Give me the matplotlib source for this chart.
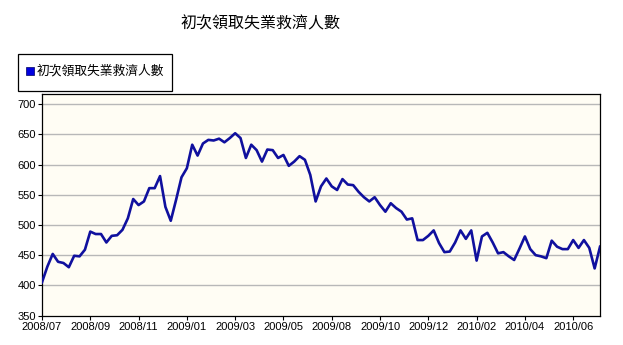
import matplotlib.pyplot as plt
from matplotlib.patches import Rectangle

plt.rcParams['font.family'] = ['Liberation Sans', 'Noto Sans CJK TC', 'DejaVu Sans']

TITLE = "初次領取失業救濟人數"

# weekly initial jobless claims (thousands)
claims = [
    405, 431, 452, 439, 437, 430, 449, 448, 459, 489,
    485, 485, 471, 482, 483, 492, 511, 543, 533, 539,
    561, 561, 581, 530, 507, 542, 579, 594, 633, 615,
    635, 641, 640, 643, 637, 644, 652, 644, 611, 633,
    624, 605, 625, 624, 611, 616, 598, 605, 614, 608,
    583, 539, 564, 577, 564, 558, 576, 567, 566, 555,
    546, 539, 546, 533, 522, 536, 528, 522, 509, 511,
    475, 475, 482, 491, 470, 455, 456, 471, 491, 477,
    491, 441, 481, 487, 471, 453, 455, 448, 442, 461,
    481, 460, 450, 448, 445, 474, 464, 460, 460, 475,
    462, 475, 462, 428, 464,
]
tick_labels = ["2008/07", "2008/09", "2008/11", "2009/01", "2009/03", "2009/05",
               "2009/08", "2009/10", "2009/12", "2010/02", "2010/04", "2010/06"]
tick_step = 9
y_ticks = [350, 400, 450, 500, 550, 600, 650, 700]

fig = plt.figure(figsize=(6.23, 3.45), dpi=100)
ax = fig.add_axes([0.0674, 0.0855, 0.8957, 0.642])
ax.set_facecolor('#FFFDF4')

x = list(range(len(claims)))
ax.plot(x, claims, color='#10109E', linewidth=1.9, solid_joinstyle='round', zorder=3)

ax.set_xlim(0, len(claims) - 1)
ax.set_ylim(350, 717)
ax.set_xticks(x[::tick_step][:len(tick_labels)])
ax.set_xticklabels(tick_labels)
ax.set_yticks(y_ticks)
ax.tick_params(axis='both', labelsize=8, length=3, width=0.8, color='black', pad=1.5)

for v in y_ticks[1:]:
    ax.axhline(v, color='#B8B8B8', linewidth=1.0, zorder=1)
for s in ax.spines.values():
    s.set_color('black')
    s.set_linewidth(0.9)

fig.text(260 / 623, 1 - 24 / 345, TITLE, ha='center', va='center', fontsize=11.5,
         family=['Noto Sans CJK TC', 'DejaVu Sans'])

# legend box
fig.patches.append(Rectangle((18 / 623, 1 - 91 / 345), 154 / 623, 37 / 345,
                             transform=fig.transFigure, facecolor='white',
                             edgecolor='black', linewidth=0.9))
fig.patches.append(Rectangle((26 / 623, 1 - 75 / 345), 8 / 623, 8 / 345,
                             transform=fig.transFigure, facecolor='#0000E0',
                             edgecolor='#000060', linewidth=0.5))
fig.text(37 / 623, 1 - 71 / 345, TITLE, ha='left', va='center', fontsize=9.2,
         family=['Noto Sans CJK TC', 'DejaVu Sans'])

fig.savefig('out.png', dpi=100, facecolor='white')
